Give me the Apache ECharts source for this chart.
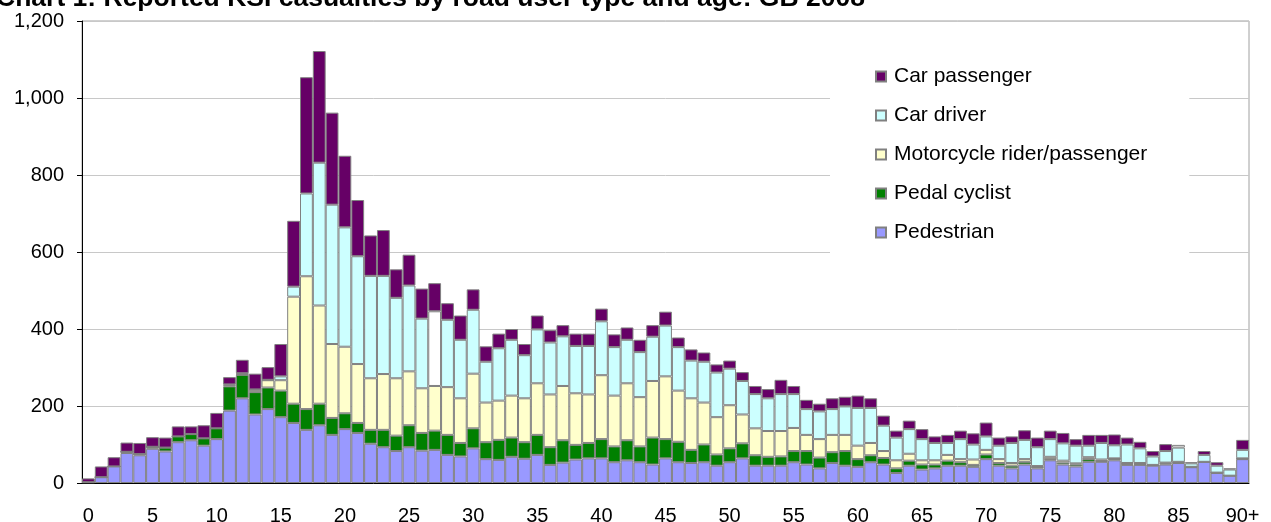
<!DOCTYPE html>
<html>
<head>
<meta charset="utf-8">
<script src="https://cdn.jsdelivr.net/npm/echarts@6/dist/echarts.min.js"></script>
<style>
html, body { margin: 0; padding: 0; background: #fff; }
#chart { width: 1271px; height: 522px; }
</style>
</head>
<body>
<div id="chart"></div>
<script>
var ages = [];
for (var a = 0; a < 90; a++) ages.push(String(a));
ages.push('90+');

// age 0 .. 90+
var pedestrian = [2,15,43,78,72,89,82,106,111,97,114,188,220,178,192,171,156,138,150,125,
    140,130,102,93,83,93,84,86,73,69,90,62,60,68,63,73,47,53,61,64,
    64,54,59,54,48,64,54,52,54,45,54,64,45,45,45,54,48,38,52,45,
    42,54,48,26,45,35,38,45,45,42,62,45,38,48,38,59,48,43,55,55,
    59,47,47,45,48,52,41,55,26,19,62];
var pedalCyclist = [0,0,0,3,3,5,10,15,16,19,28,63,61,58,56,69,50,54,56,44,
    41,26,36,45,40,57,46,50,52,35,52,44,52,50,43,52,46,58,38,40,
    50,41,52,41,70,50,53,34,46,29,36,39,27,23,24,29,35,28,28,38,
    20,18,17,12,13,13,10,13,9,5,12,7,7,7,4,3,5,5,7,2,
    4,3,2,1,3,2,1,0,1,0,1];
var motorcycle = [0,0,0,0,0,0,0,0,0,0,0,3,2,6,19,27,278,345,255,192,
    173,153,134,145,149,140,116,116,124,116,142,103,102,109,114,134,137,141,134,126,
    166,132,148,128,147,163,133,134,109,97,112,75,70,67,66,60,42,48,45,42,
    35,32,18,21,18,11,11,15,8,14,12,10,7,7,2,6,5,3,5,4,
    1,2,3,1,2,1,0,0,0,0,1];
var carDriver = [0,0,0,0,0,0,0,0,0,0,0,2,2,1,1,10,26,215,371,362,
    310,280,266,255,209,223,181,194,175,152,166,106,136,145,112,140,135,129,123,126,
    140,126,113,117,115,132,113,98,106,116,95,87,89,85,96,88,67,72,67,74,
    98,91,66,59,64,55,45,31,52,39,35,35,52,50,49,46,45,46,30,43,
    34,48,38,22,30,37,9,18,18,16,22];
var carPassenger = [10,28,24,24,29,25,26,26,20,34,40,19,35,41,33,84,171,302,290,239,
    186,146,105,119,74,80,78,73,43,63,53,40,38,28,29,36,32,29,32,32,
    33,33,32,32,30,36,25,29,24,21,21,23,21,24,37,21,24,20,28,25,
    32,25,26,18,22,26,17,21,22,29,36,21,17,25,25,22,27,17,28,21,
    28,18,17,14,18,7,3,10,9,3,26];

var chart = echarts.init(document.getElementById('chart'));

function barSeries(name, values, color, blankAge) {
    return {
        name: name,
        type: 'bar',
        stack: 'ksi',
        barCategoryGap: 0,
        itemStyle: { color: color, borderColor: '#808080', borderWidth: 1 },
        data: values.map(function (v, i) {
            if (ages[i] === blankAge) return { value: v, itemStyle: { color: '#ffffff' } };
            return v;
        })
    };
}

var option = {
    animation: false,
    backgroundColor: '#ffffff',
    textStyle: { fontFamily: 'Liberation Sans, Arial, sans-serif' },
    title: {
        text: 'Chart 1: Reported KSI casualties by road user type and age: GB 2008',
        left: -4,
        top: -15,
        padding: 0,
        textStyle: { fontSize: 26.5, fontWeight: 'bold', color: '#000' }
    },
    legend: {
        orient: 'vertical',
        left: 830,
        top: 58,
        padding: [8, 42, 10, 45],
        backgroundColor: '#ffffff',
        itemWidth: 10,
        itemHeight: 10,
        itemGap: 18,
        icon: 'rect',
        textStyle: { fontSize: 21, color: '#000', padding: [0, 0, 0, 3] },
        data: ['Car passenger', 'Car driver', 'Motorcycle rider/passenger', 'Pedal cyclist', 'Pedestrian']
    },
    grid: {
        left: 82,
        right: 22,
        top: 21,
        bottom: 39,
        outerBoundsMode: 'none',
        show: true,
        borderColor: '#a0a0a0',
        borderWidth: 1
    },
    xAxis: {
        type: 'category',
        data: ages,
        axisLine: { lineStyle: { color: '#000', width: 1 } },
        axisTick: { interval: 0, length: 6, lineStyle: { color: '#000' } },
        axisLabel: {
            interval: function (index) { return index % 5 === 0; },
            fontSize: 20,
            color: '#000',
            margin: 23
        }
    },
    yAxis: {
        type: 'value',
        min: 0,
        max: 1200,
        interval: 200,
        axisLine: { show: true, lineStyle: { color: '#000' } },
        axisTick: { show: true, length: 5, lineStyle: { color: '#000' } },
        splitLine: { lineStyle: { color: '#c8c8c8' } },
        axisLabel: {
            fontSize: 20,
            color: '#000',
            margin: 18,
            formatter: function (v) { return v.toLocaleString('en-US'); }
        }
    },
    series: [
        barSeries('Pedestrian', pedestrian, '#9999ff'),
        barSeries('Pedal cyclist', pedalCyclist, '#008000'),
        barSeries('Motorcycle rider/passenger', motorcycle, '#ffffcc'),
        barSeries('Car driver', carDriver, '#ccffff', '27'),
        barSeries('Car passenger', carPassenger, '#660066', '85')
    ]
};
chart.setOption(option);
</script>
</body>
</html>
